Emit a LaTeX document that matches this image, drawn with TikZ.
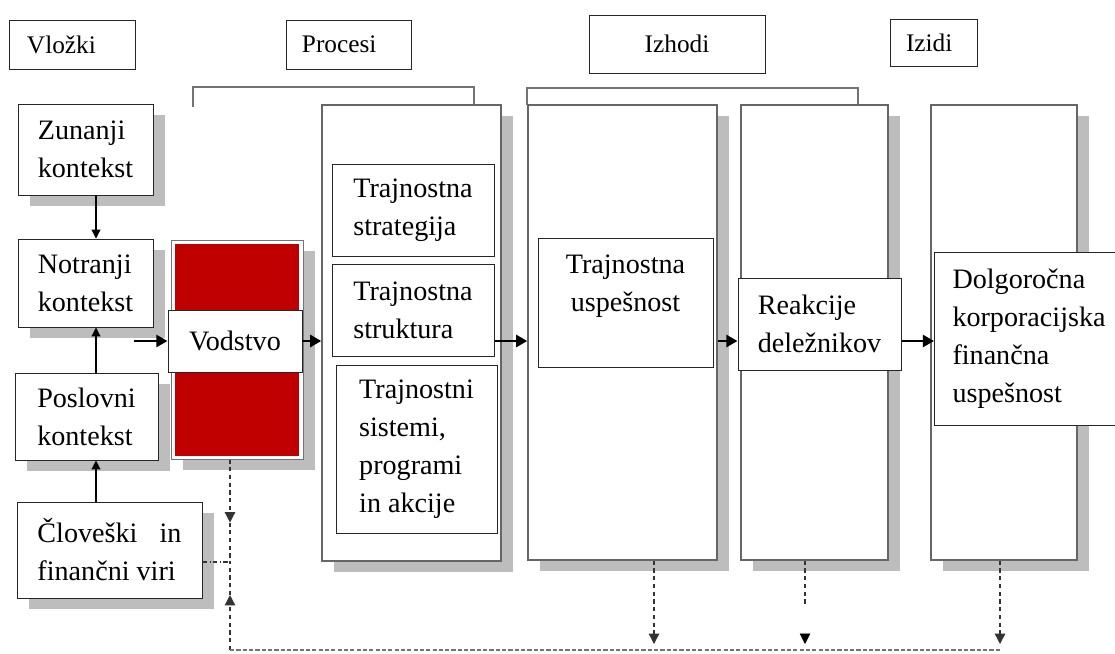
\documentclass[tikz,border=0pt]{standalone}
\usepackage{fontspec}
\setmainfont{Liberation Serif}
\usetikzlibrary{arrows.meta,shadows}

\definecolor{leadred}{HTML}{C00000}
\definecolor{shadowgray}{HTML}{BDBDBD}

\tikzset{
  txt/.style={font=\fontsize{20}{27}\selectfont},
  box/.style={draw=black!85, fill=white, line width=0.7pt, inner sep=0pt, align=left, txt},
  shbox/.style={box, drop shadow={shadow xshift=0.3cm, shadow yshift=-0.28cm, fill=shadowgray, opacity=1}},
  colbox/.style={shbox, draw=black!60, line width=1pt},
  headbox/.style={box, font=\fontsize{18}{24}\selectfont},
  flow/.style={-{Triangle[length=2.2mm,width=2.2mm]}, line width=0.8pt},
  bigflow/.style={-{Triangle[length=2.8mm,width=3mm]}, line width=2.1pt},
  fb/.style={dash pattern=on 3pt off 2.5pt, line width=0.9pt, black!80},
  fbtip/.style={-{Triangle[length=2.6mm,width=2.6mm]}},
  bracket/.style={draw=black!55, line width=1.2pt},
}

\begin{document}
\begin{tikzpicture}[x=0.025cm, y=-0.025cm]
\def\pxu{0.025cm}
\clip (0,0) rectangle (1115,653);

% headings
\node[headbox, minimum width=125*\pxu, minimum height=49*\pxu, inner xsep=17*\pxu, text width=2.275cm] (vlozki) at (72.5,44.5) {Vložki};
\node[headbox, minimum width=125*\pxu, minimum height=49*\pxu, inner xsep=16*\pxu, text width=2.325cm] (procesi) at (348.5,44.5) {Procesi};
\node[headbox, minimum width=176*\pxu, minimum height=58*\pxu, align=center] (izhodi) at (677,44) {Izhodi};
\node[headbox, minimum width=87*\pxu, minimum height=47*\pxu, inner xsep=16*\pxu, text width=1.375cm] (izidi) at (933.5,42.5) {Izidi};

\draw[bracket] (193,107) -- (193,87) -- (474,87) -- (474,104);
\draw[bracket] (527,105) -- (527,88) -- (858,88) -- (858,105);

% inputs
\coordinate (axis) at (96,0);
\node[shbox, minimum width=135*\pxu, minimum height=91*\pxu] (zunanji) at (85.5,149.5) {Zunanji\\kontekst};
\node[shbox, minimum width=135*\pxu, minimum height=88*\pxu] (notranji) at (85.5,283) {Notranji\\kontekst};
\node[shbox, minimum width=143*\pxu, minimum height=87*\pxu] (poslovni) at (86.5,416.5) {Poslovni\\kontekst};
\node[shbox, minimum width=185*\pxu, minimum height=96*\pxu] (cloveski) at (109.5,550) {\makebox[3.6cm][s]{Človeški in}\\finančni viri};
\draw[flow] (zunanji.south -| axis) -- (notranji.north -| axis);
\draw[flow] (poslovni.north -| axis) -- (notranji.south -| axis);
\draw[flow] (cloveski.north -| axis) -- (poslovni.south -| axis);

% leadership
\node[shbox, draw=black!55, minimum width=132*\pxu, minimum height=219*\pxu] (lead) at (237,349.5) {};
\fill[leadred] ([shift={(4,4)}]lead.north west) rectangle ([shift={(-4,-4)}]lead.south east);
\node[box, minimum width=134*\pxu, minimum height=62*\pxu, align=center] (vodstvo) at (235,341) {Vodstvo};
\coordinate (flowy) at (0,341);
\coordinate (leadin) at (134,341);
\draw[bigflow] (leadin) -- (vodstvo.west);

% processes
\node[colbox, minimum width=179*\pxu, minimum height=456*\pxu] (proccol) at (411.5,333) {};
\node[box, minimum width=162*\pxu, minimum height=92*\pxu] (strategija) at (413,210) {Trajnostna\\strategija};
\node[box, minimum width=162*\pxu, minimum height=92*\pxu] (struktura) at (413,310) {Trajnostna\\struktura};
\node[box, minimum width=161*\pxu, minimum height=168*\pxu] (sistemi) at (416.5,449) {Trajnostni\\sistemi,\\programi\\in akcije};
\draw[bigflow] (vodstvo.east) -- (vodstvo.east -| proccol.west);

% outputs and outcomes
\node[colbox, minimum width=189*\pxu, minimum height=455*\pxu] (izcol1) at (622.5,332.5) {};
\node[box, minimum width=175*\pxu, minimum height=129*\pxu, align=center] (uspesnost) at (625.5,302.5) {Trajnostna\\uspešnost\\~};
\node[colbox, minimum width=147*\pxu, minimum height=455*\pxu] (izcol2) at (814.5,332.5) {};
\node[box, minimum width=163*\pxu, minimum height=92*\pxu] (reakcije) at (819.5,324) {Reakcije\\deležnikov};
\node[colbox, minimum width=146*\pxu, minimum height=455*\pxu] (izcol3) at (1004,332.5) {};
\node[box, anchor=west, minimum height=173*\pxu, inner xsep=18*\pxu, text width=5cm] (dolgo) at (934,338.5) {Dolgoročna\\korporacijska\\finančna\\uspešnost};

\draw[bigflow] (flowy -| struktura.east) -- (flowy -| izcol1.west);
\draw[bigflow] (flowy -| izcol1.east) -- (flowy -| reakcije.west);
\draw[bigflow] (flowy -| reakcije.east) -- (flowy -| dolgo.west);

% feedback
\coordinate (fbcorner) at (230,650);
\coordinate (fbjoin) at (230,562);
\coordinate (d1) at (654,644);
\coordinate (d2) at (805,644);
\coordinate (d3) at (1000,644);
\draw[fb, fbtip] (lead.south -| fbcorner) -- ++(0,63);
\draw[fb] (lead.south -| fbcorner) ++(0,63) -- (fbjoin);
\draw[fb, fbtip] (fbcorner) -- ++(0,-55);
\draw[fb] (fbcorner) ++(0,-55) -- (fbjoin);
\draw[dashdotted, line width=0.8pt, black!80] (cloveski.east |- fbjoin) -- (fbjoin);
\draw[fb, black!55, dash pattern=on 3pt off 1.5pt] (fbcorner) -- (fbcorner -| d3);
\draw[fb, fbtip] (izcol1.south -| d1) -- (d1);
\draw[fb] (izcol2.south -| d2) -- ++(0,43);
\draw[fbtip] (d2) ++(0,-10.4) -- (d2);
\draw[fb, fbtip] (izcol3.south -| d3) -- (d3);

\end{tikzpicture}
\end{document}
